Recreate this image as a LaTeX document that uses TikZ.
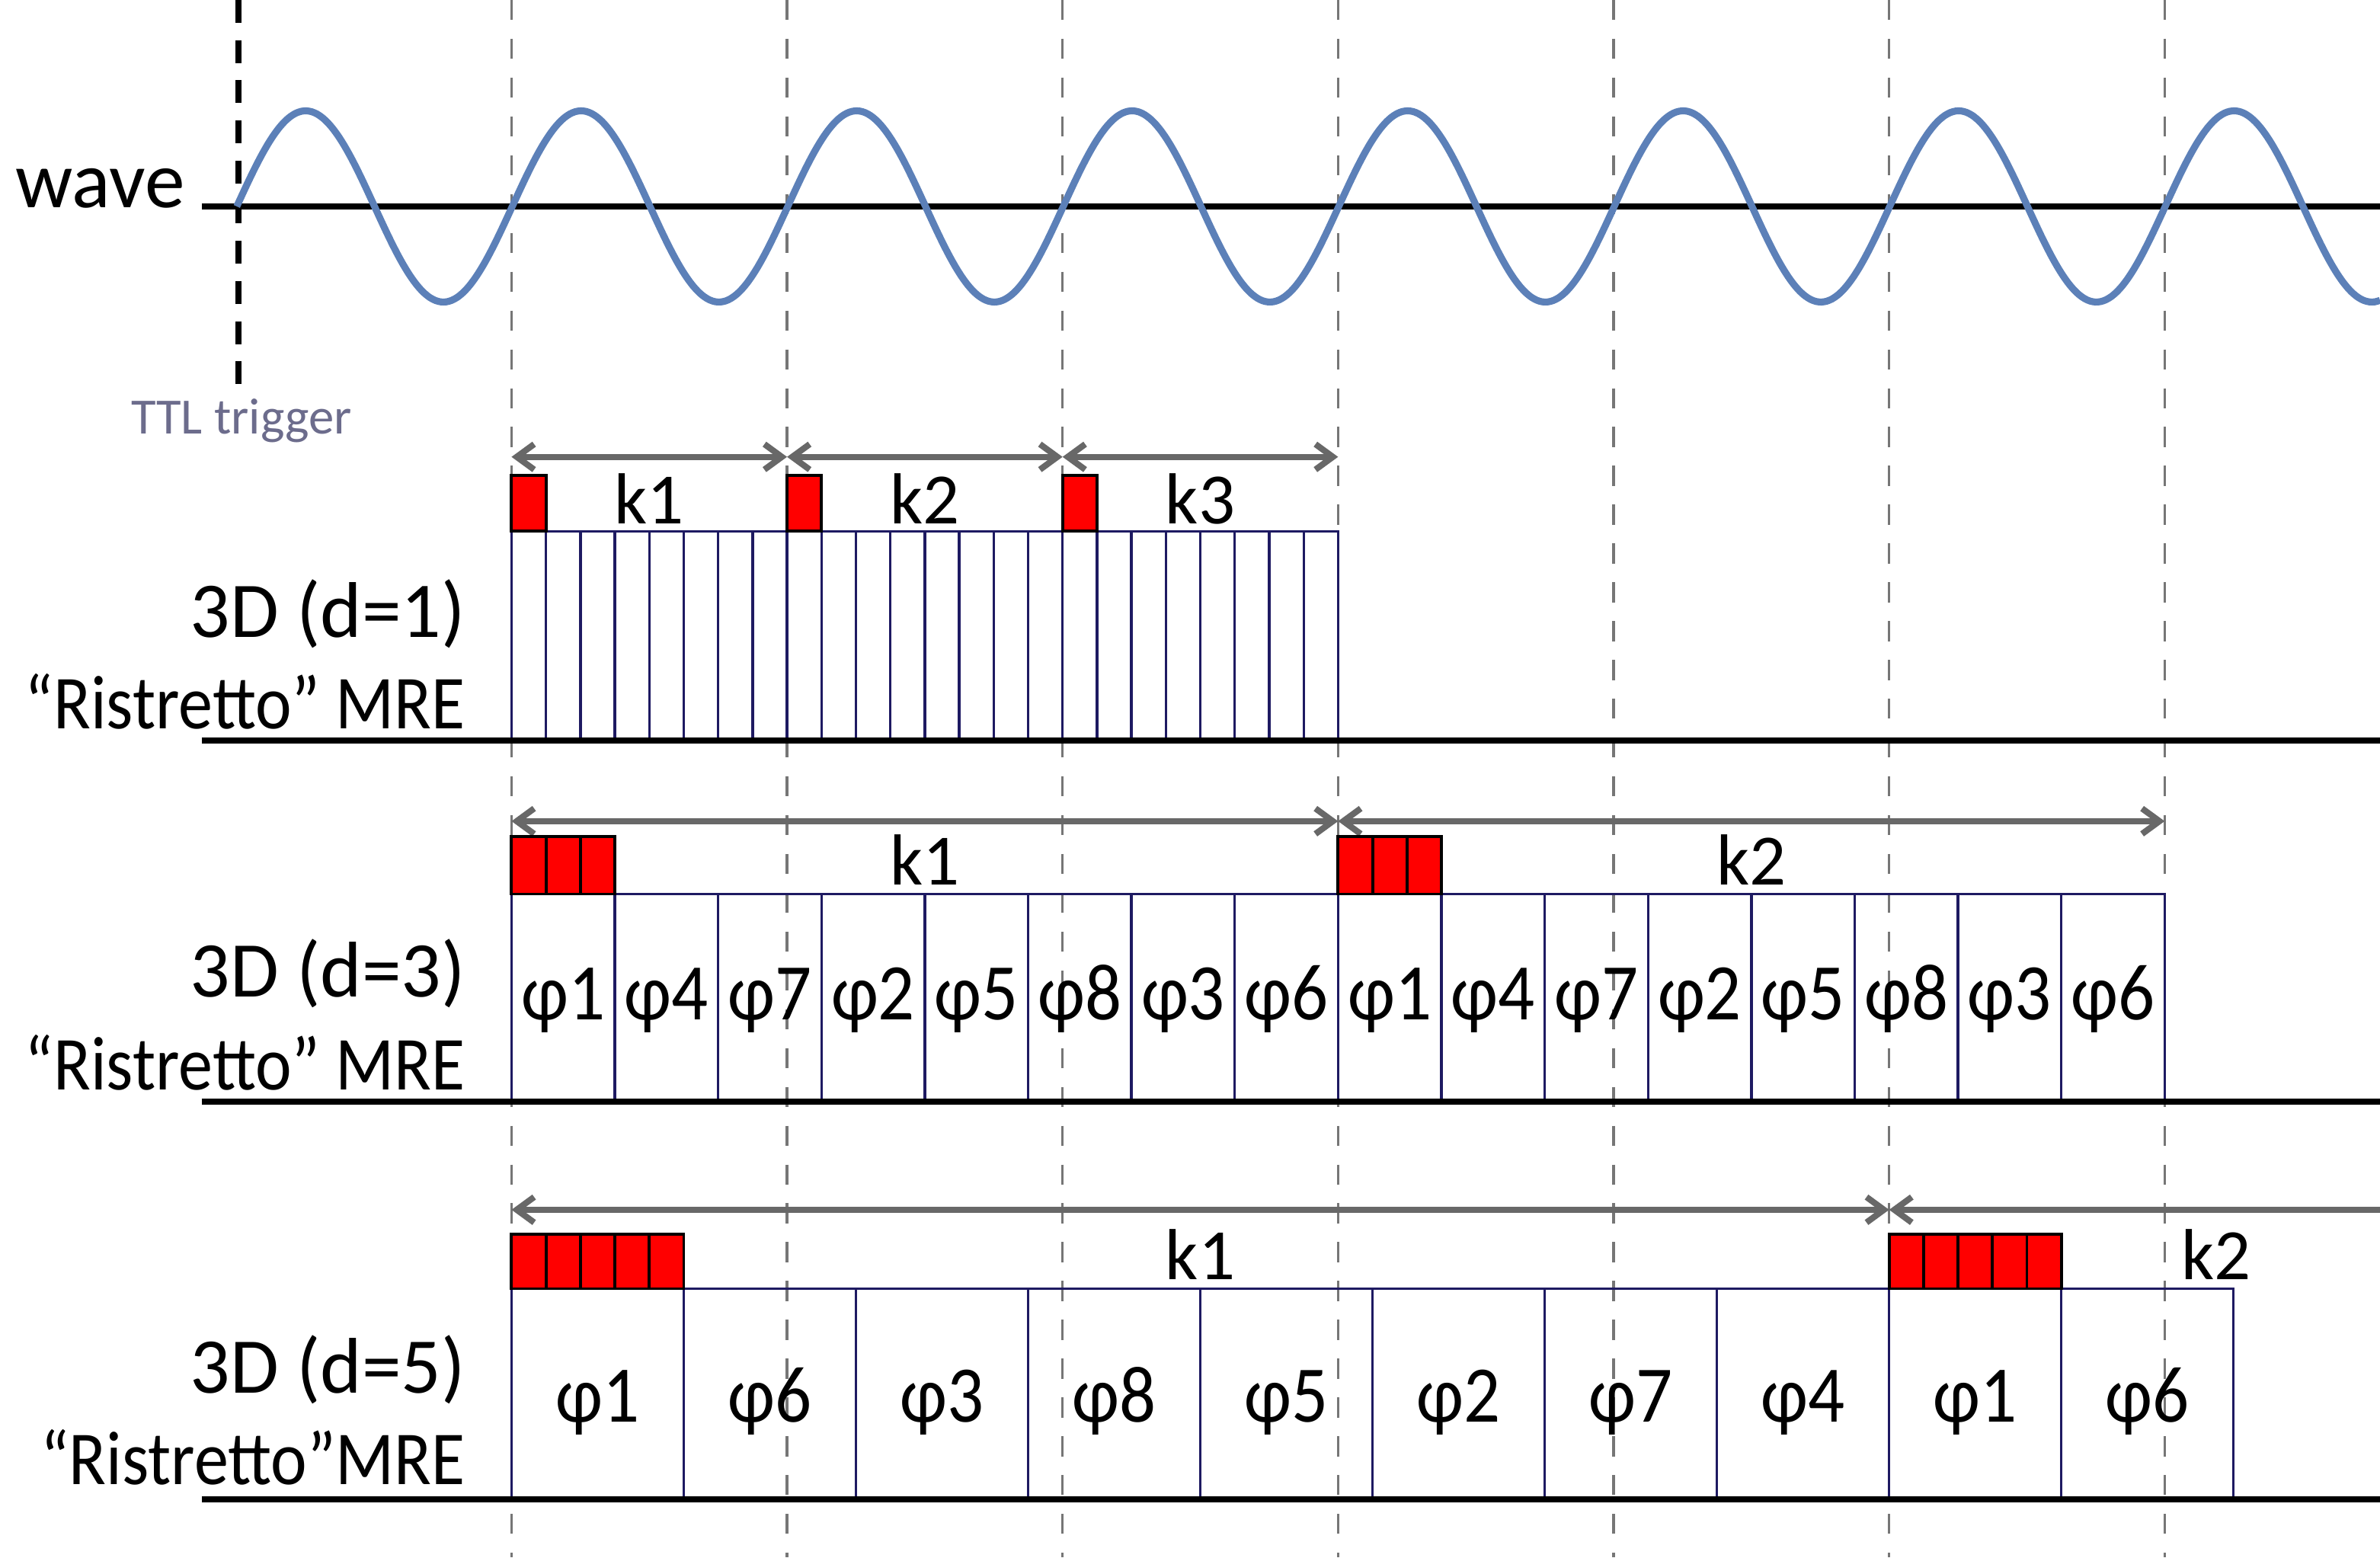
\documentclass[tikz,border=0pt]{standalone}
\usepackage{fontspec}
\setmainfont{Carlito}
\newfontfamily\narrowfont[FakeStretch=0.9]{Carlito}
\usetikzlibrary{arrows.meta}

\definecolor{wavecol}{RGB}{92,128,184}
\definecolor{cellcol}{RGB}{30,26,98}
\definecolor{trigcol}{RGB}{108,108,140}
\definecolor{spancol}{RGB}{104,104,104}
\definecolor{echocol}{RGB}{118,118,118}

\newcommand\trw{22.69}  % one TR
\newcommand\xstart{337} % first echo line

\tikzset{
  axisline/.style={black, line width=2.3pt},
  echoline/.style={echocol, line width=0.95pt, dash pattern=on 7.5pt off 7pt},
  trigline/.style={black, line width=2.3pt, dash pattern=on 8.5pt off 6.5pt},
  wavecurve/.style={wavecol, line width=2.6pt},
  barb/.tip={Straight Barb[length=6.5pt,width=9.5pt]},
  kspan/.style={spancol, line width=2.3pt, barb-barb},
  readout/.style={draw=cellcol, line width=0.95pt},
  prep/.style={draw=black, fill=red, line width=1.1pt},
  rowlabel/.style={anchor=base east, inner sep=0pt, font=\fontsize{29.5}{32}\selectfont},
  namelabel/.style={anchor=base east, inner sep=0pt, font=\narrowfont\fontsize{28.5}{32}\selectfont},
  klabel/.style={anchor=base, inner sep=0pt, font=\fontsize{27}{30}\selectfont},
  phase/.style={anchor=base, inner sep=0pt, font=\narrowfont\fontsize{30}{32}\selectfont},
}

\begin{document}
\begin{tikzpicture}[x=0.019923cm, y=-0.019923cm]
\useasboundingbox (0,0) rectangle (1568,1026);

% echo lines
\foreach \n in {0,...,6}
  \draw[echoline] ({\xstart+8*\n*\trw},0) -- ({\xstart+8*\n*\trw},1026);

% wave and trigger
\draw[trigline] (157,0) -- (157,256);
\draw[axisline] (133,136) -- (1568,136);
\draw[wavecurve] plot[domain=156:1568, samples=400, smooth]
  (\x, {136-63*sin(1.98347*(\x-156))});
\node[anchor=base east, inner sep=0pt, font=\fontsize{30}{34}\selectfont] (wave) at (122,137) {wave};
\node[anchor=base, inner sep=0pt, text=trigcol, font=\fontsize{19}{22}\selectfont] (ttl) at (159,286) {TTL trigger};

% d=1
\foreach \i in {0,...,3}
  \coordinate (s1-\i) at ({\xstart+8*\i*\trw},301);
\foreach \i [count=\j from 1] in {0,1,2} {
  \draw[kspan] (s1-\i) -- (s1-\j);
  \node[klabel] (k1-\j) at ({\xstart+(8*\i+4)*\trw},345) {k\j};
}
\foreach \i in {0,...,23}
  \draw[readout] ({\xstart+\i*\trw},350) rectangle ++(\trw,138);
\foreach \i in {0,1,2}
  \draw[prep] ({\xstart+8*\i*\trw},313) rectangle ++(\trw,37);
\draw[axisline] (133,488) -- (1568,488);
\node[rowlabel] (d1a) at (307,420) {3D (d=1)};
\node[namelabel] (d1b) at (307,480) {“Ristretto” MRE};

% d=3
\foreach \i in {0,1,2}
  \coordinate (s3-\i) at ({\xstart+24*\i*\trw},541);
\draw[kspan] (s3-0) -- (s3-1);
\draw[kspan] (s3-1) -- (s3-2);
\node[klabel] (k3-1) at ({\xstart+12*\trw},583) {k1};
\node[klabel] (k3-2) at ({\xstart+36*\trw},583) {k2};
\foreach \p [count=\i from 0] in {1,4,7,2,5,8,3,6,1,4,7,2,5,8,3,6} {
  \draw[readout] ({\xstart+3*\i*\trw},589) rectangle ++({3*\trw},137);
  \node[phase] (p3-\i) at ({\xstart+(3*\i+1.5)*\trw},672) {φ\p};
}
\foreach \b in {0,24}
  \foreach \c in {0,1,2}
    \draw[prep] ({\xstart+(\b+\c)*\trw},551) rectangle ++(\trw,38);
\draw[axisline] (133,726) -- (1568,726);
\node[rowlabel] (d3a) at (307,657) {3D (d=3)};
\node[namelabel] (d3b) at (307,718) {“Ristretto” MRE};

% d=5
\coordinate (s5-0) at (\xstart,797);
\coordinate (s5-1) at ({\xstart+40*\trw},797);
\coordinate (s5-2) at (1568,797);
\draw[kspan] (s5-0) -- (s5-1);
\draw[kspan, barb-] (s5-1) -- (s5-2);
\node[klabel] (k5-1) at ({\xstart+20*\trw},843) {k1};
\node[klabel] (k5-2) at (1460,843) {k2};
\foreach \p [count=\i from 0] in {1,6,3,8,5,2,7,4,1,6} {
  \draw[readout] ({\xstart+5*\i*\trw},849) rectangle ++({5*\trw},139);
  \node[phase] (p5-\i) at ({\xstart+(5*\i+2.5)*\trw},937) {φ\p};
}
\foreach \b in {0,40}
  \foreach \c in {0,...,4}
    \draw[prep] ({\xstart+(\b+\c)*\trw},813) rectangle ++(\trw,36);
\draw[axisline] (133,988) -- (1568,988);
\node[rowlabel] (d5a) at (307,918) {3D (d=5)};
\node[namelabel] (d5b) at (307,978) {“Ristretto”MRE};
\end{tikzpicture}
\end{document}
